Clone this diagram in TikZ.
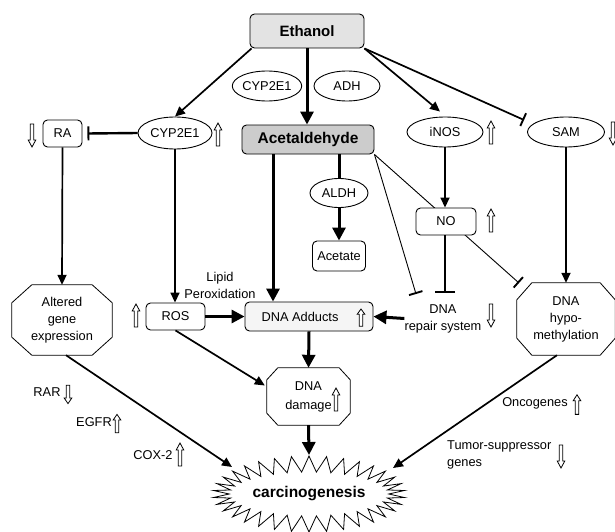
\documentclass[tikz,border=0pt]{standalone}
\usepackage{fontspec}
\setmainfont{Liberation Sans}
\usetikzlibrary{arrows.meta,shapes.geometric,shapes.symbols,calc}
\newcommand\octpath[3]{\draw[line width=0.8pt] ($(#1.north west)+(#2,0)$) -- ($(#1.north east)+(-#2,0)$) -- ($(#1.north east)+(0,#3)$) -- ($(#1.south east)+(0,-#3)$) -- ($(#1.south east)+(-#2,0)$) -- ($(#1.south west)+(#2,0)$) -- ($(#1.south west)+(0,-#3)$) -- ($(#1.north west)+(0,#3)$) -- cycle;}
\tikzset{
  base/.style={font=\fontsize{12.8}{17}\selectfont, inner sep=0pt, align=center},
  rbox/.style={base, draw, rounded corners=4.5pt, line width=0.9pt},
  ell/.style={base, draw, ellipse, line width=0.9pt},
  oct/.style={base, draw=none},
  larr/.style={line width=1.7pt, -{Triangle[length=10pt,width=9pt]}},
  harr/.style={line width=3pt, -{Triangle[length=13pt,width=13pt]}},
  inh/.style={line width=1.7pt, -{Bar[width=14pt,line width=1.9pt]}},
  hair/.style={line width=0.9pt},
  uparr/.pic={\draw[line width=0.8pt, fill=white] (-1.7,11) -- (-1.7,-5) -- (-3.8,-5) -- (0,-12) -- (3.8,-5) -- (1.7,-5) -- (1.7,11) -- cycle;},
  dnarr/.pic={\draw[line width=0.8pt, fill=white] (-1.7,-11) -- (-1.7,5) -- (-3.8,5) -- (0,12) -- (3.8,5) -- (1.7,5) -- (1.7,-11) -- cycle;}
}
\begin{document}
\begin{tikzpicture}[x=1pt,y=-1pt]
\fill[white] (0,0) rectangle (615,532);
\useasboundingbox (0,0) rectangle (615,532);
% nodes
\node[rbox, fill=gray!22, minimum width=114pt, minimum height=34pt, font=\fontsize{15}{18}\selectfont\bfseries] (eth) at (307,31) {Ethanol};
\node[ell, minimum width=66pt, minimum height=30pt] (cypT) at (267,86) {CYP2E1};
\node[ell, minimum width=66pt, minimum height=30pt] (adh) at (347,86) {ADH};
\node[rbox, fill=gray!40, minimum width=132pt, minimum height=29pt, font=\fontsize{15.5}{18}\selectfont\bfseries] (acet) at (308,139.5) {Acetaldehyde};
\node[ell, minimum width=74pt, minimum height=32pt] (cypL) at (175,133) {CYP2E1};
\node[rbox, minimum width=39pt, minimum height=27pt] (ra) at (62.5,133.5) {RA};
\node[ell, minimum width=76pt, minimum height=30pt] (inos) at (445,132) {iNOS};
\node[ell, minimum width=77pt, minimum height=30pt] (sam) at (566,132) {SAM};
\node[ell, minimum width=58pt, minimum height=29pt] (aldh) at (339,193) {ALDH};
\node[rbox, minimum width=53pt, minimum height=30pt] (acetate) at (339,256) {Acetate};
\node[rbox, fill=gray!8, minimum width=128pt, minimum height=29pt] (add) at (309,316.5) {DNA Adducts\hspace{18pt}};
\node[rbox, minimum width=59pt, minimum height=27pt] (ros) at (175.5,316.5) {ROS};
\node[base] (rep) at (443,318.5) {DNA\\repair system};
\node[base] (lip) at (220,285) {Lipid\\Peroxidation};
\node[oct, minimum width=100pt, minimum height=70pt] (alt) at (62,320) {Altered\\gene\\expression};
\node[oct, minimum width=98pt, minimum height=72pt] (hypo) at (566,319) {DNA\\hypo-\\methylation};
\node[oct, minimum width=83pt, minimum height=57pt, font=\fontsize{12.8}{19}\selectfont] (dmg) at (308.5,396.5) {DNA\\damage\hspace{6pt}};
\node[starburst, draw, line width=0.8pt, minimum width=190pt, minimum height=76pt, starburst points=34, starburst point height=16pt, random starburst=0, inner sep=0pt, font=\fontsize{15.5}{18}\selectfont\bfseries] (carc) at (309,494) {carcinogenesis};
\octpath{alt}{20}{18}
\octpath{hypo}{15}{17}
\octpath{dmg}{11}{12}
% labels
\node[base] (rar) at (47,392) {RAR};
\node[base] (egfr) at (94,422) {EGFR};
\node[base] (cox) at (153,455) {COX-2};
\node[base] (onc) at (535,403) {Oncogenes};
\node[base, align=left, anchor=west] (tsg) at (447,455) {Tumor-suppressor\\genes};
% coordinates
\coordinate (barRep) at (416,294);
\coordinate (barHyp) at (519,283);
\coordinate (barNo) at (445,293);
% connector behind NO
\draw[inh, hair] (acet.south east) -- (barHyp);
\node[rbox, fill=white, minimum width=60pt, minimum height=27pt] (no) at (446,221.5) {NO};
% connectors
\draw[larr] ([xshift=2pt]eth.south west) -- (cypL.north);
\draw[harr] (eth.south) -- (eth.south |- acet.north);
\draw[larr] (eth.south east) -- ($(inos.north)+(-5,-5)$);
\draw[inh] (eth.south east) -- ($(sam.west)+(-3,-12)$);
\draw[inh, line width=2.4pt] (cypL.west) -- ($(ra.east)+(5,0)$);
\draw[larr] (ra.south) -- (alt.north);
\draw[larr] (cypL.south) -- (cypL.south |- ros.north);
\draw[harr] ($(acet.south)+(-35,0)$) -- ($(add.north)+(-36,0)$);
\draw[line width=3pt] (aldh.north |- acet.south) -- (aldh.north);
\draw[harr] (aldh.south) -- (acetate.north);
\draw[larr] (inos.south) -- (inos.south |- no.north);
\draw[inh, hair] (acet.south east) -- (barRep);
\draw[inh, line width=2.4pt, -{Bar[width=20pt,line width=2.4pt]}] (no.south -| barNo) -- (barNo);
\draw[harr] (rep.west) -- (add.east);
\draw[harr] (ros.east) -- (add.west);
\draw[harr] (add.south) -- (dmg.north);
\draw[larr] (ros.south) -- ($(dmg.west)+(-2,-11)$);
\draw[harr] (dmg.south) -- (carc.north);
\draw[larr] (sam.south) -- (hypo.north);
\draw[larr] ($(alt.south)+(4,0)$) -- ($(carc.center)+(-77,-27)$);
\draw[larr] ($(hypo.south)+(-9,0)$) -- ($(carc.center)+(84,-26)$);
% hollow arrows
\pic at (32,135) {dnarr};
\pic at (218,135) {uparr};
\pic at (491,133) {uparr};
\pic at (613,133) {dnarr};
\pic at (491,221) {uparr};
\pic at (491,315) {dnarr};
\pic[yscale=0.75] at (361,318) {uparr};
\pic at (136,316) {uparr};
\pic at (336,400) {uparr};
\pic[yscale=0.8] at (68,394) {dnarr};
\pic[yscale=0.8] at (117,424) {uparr};
\pic at (180,455) {uparr};
\pic[yscale=0.85] at (577,405) {uparr};
\pic at (561,456) {dnarr};
\end{tikzpicture}
\end{document}
